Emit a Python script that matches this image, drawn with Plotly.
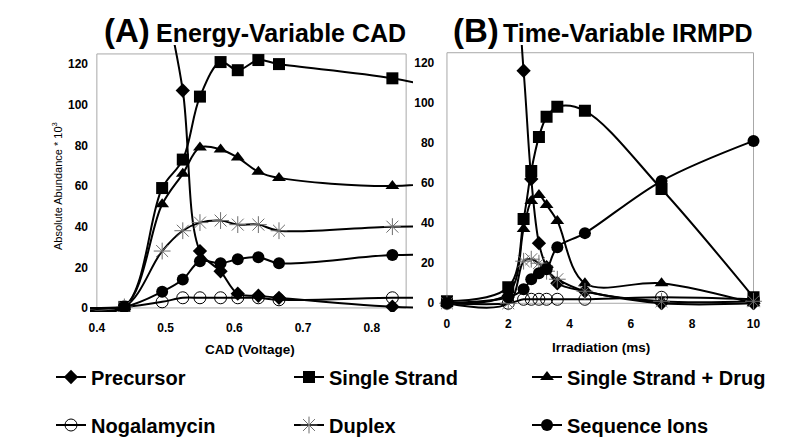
import plotly.graph_objects as go

# panel A: energy-variable CAD (first and last points sit outside the drawn frame)
cad_v = [0.36, 0.44, 0.495, 0.525, 0.55, 0.58, 0.605, 0.635, 0.665, 0.83, 0.95]
a_precursor = [350, 260, 160, 107, 28, 18, 7, 6, 5, 0.6, 0]
a_single = [0, 0.5, 59, 73, 104, 121, 117, 122, 120, 113, 104]
a_single_drug = [0, 0.5, 51, 66, 79, 78, 74, 67, 64, 60, 64]
a_noga = [0, 0.5, 3, 5, 5, 5, 5, 5, 4, 5, 5]
a_duplex = [0, 0.5, 28, 38, 42, 43, 41, 41, 38, 40, 40]
a_seq = [0, 0.5, 8, 14, 23, 22, 24, 25, 22, 26, 26]

# panel B: time-variable IRMPD
irr_ms = [0, 2, 2.5, 2.75, 3, 3.25, 3.6, 4.5, 7, 10]
b_precursor = [320, 200, 116, 62, 30, 18, 10, 6, 0, 0]
b_single = [1, 8, 42, 66, 83, 93, 98, 96, 57, 3]
b_single_drug = [0, 5, 37, 51, 54, 49, 41, 10, 10, 0]
b_noga = [0, 0, 2, 2, 2, 2, 2, 2, 3, 2]
b_duplex = [0, 0, 21, 22, 20, 16, 12, 6, 1, 1]
b_seq = [0, 3, 7, 12, 15, 17, 28, 35, 61, 81]

names = ['Precursor', 'Single Strand', 'Single Strand + Drug',
         'Nogalamycin', 'Duplex', 'Sequence Ions']
styles = [
    dict(symbol='diamond', size=11, color='black'),
    dict(symbol='square', size=12, color='black'),
    dict(symbol='triangle-up', size=12, color='black'),
    dict(symbol='circle-open', size=12, color='black', line=dict(width=1, color='black')),
    dict(symbol='asterisk-open', size=14, color='#6e6e6e', line=dict(width=1, color='#6e6e6e')),
    dict(symbol='circle', size=12, color='black'),
]
legends = ['legend', 'legend', 'legend', 'legend2', 'legend2', 'legend2']

SANS = 'Liberation Sans, Arial, sans-serif'
W, H, OFF = 800, 443, 8   # page body margin shifts the figure by 8px


def px(x):
    return (x - OFF) / W


def py(y):
    return 1 - (y - OFF) / H


fig = go.Figure()
for i, ys in enumerate([a_precursor, a_single, a_single_drug, a_noga, a_duplex, a_seq]):
    fig.add_trace(go.Scatter(x=cad_v, y=ys, name=names[i], mode='lines+markers',
                             line=dict(color='black', width=2, shape='spline'),
                             marker=styles[i], legend=legends[i],
                             xaxis='x', yaxis='y'))
for i, ys in enumerate([b_precursor, b_single, b_single_drug, b_noga, b_duplex, b_seq]):
    fig.add_trace(go.Scatter(x=irr_ms, y=ys, name=names[i], mode='lines+markers',
                             line=dict(color='black', width=2, shape='spline'),
                             marker=styles[i], showlegend=False,
                             xaxis='x2', yaxis='y2'))

tickfont = dict(family=SANS, size=12, color='black', weight='bold')
ax = dict(showgrid=False, zeroline=False, showline=False, ticks='', tickfont=tickfont)
legfont = dict(family=SANS, size=20, color='black', weight='bold')


def ann(text, x, y, size, xanchor='center', bold=True, angle=0):
    return dict(text=text, x=px(x), y=py(y), xref='paper', yref='paper',
                xanchor=xanchor, yanchor='middle', showarrow=False, textangle=angle,
                font=dict(family=SANS, size=size, color='black',
                          weight='bold' if bold else 'normal'))


fig.update_layout(
    width=W, height=H, autosize=False,
    margin=dict(l=0, r=0, t=0, b=0, autoexpand=False),
    paper_bgcolor='white', plot_bgcolor='rgba(0,0,0,0)',
    xaxis=dict(ax, domain=[px(90), px(413)], range=[0.39, 0.86],
               tickvals=[0.4, 0.5, 0.6, 0.7, 0.8], tickformat='.1f',
               ticklabelstandoff=7),
    yaxis=dict(ax, domain=[py(312), py(45)], range=[-2, 129.4],
               tickvals=[0, 20, 40, 60, 80, 100, 120], ticklabelstandoff=1),
    xaxis2=dict(ax, domain=[px(439.3), px(762.7)], range=[-0.25, 10.3],
                tickvals=[0, 2, 4, 6, 8, 10], anchor='y2', ticklabelstandoff=5),
    yaxis2=dict(ax, domain=[py(310.3), py(45.1)], range=[-3.5, 128.8],
                tickvals=[0, 20, 40, 60, 80, 100, 120], anchor='x2',
                ticklabelstandoff=4),
    legend=dict(orientation='h', x=px(51), y=py(377), xanchor='left', yanchor='middle',
                entrywidth=193, entrywidthmode='pixels', itemwidth=30,
                font=legfont, bgcolor='rgba(0,0,0,0)'),
    legend2=dict(orientation='h', x=px(51), y=py(425), xanchor='left', yanchor='middle',
                 entrywidth=193, entrywidthmode='pixels', itemwidth=30,
                 font=legfont, bgcolor='rgba(0,0,0,0)'),
    shapes=[
        dict(type='rect', xref='x', yref='y', x0=0.4, x1=0.85, y0=0, y1=125,
             line=dict(color='#a8a8a8', width=1), layer='below'),
        dict(type='rect', xref='x2', yref='y2', x0=0, x1=10, y0=0, y1=125,
             line=dict(color='#a8a8a8', width=1), layer='below'),
    ],
    annotations=[
        ann('(A)', 127, 30, 33),
        ann('Energy-Variable CAD', 154, 33, 25, xanchor='left'),
        ann('(B)', 476, 30, 33),
        ann('Time-Variable IRMPD', 501, 33, 25, xanchor='left'),
        ann('Absolute Abundance * 10<sup>3</sup>', 57, 186, 11, bold=False, angle=-90),
        ann('CAD (Voltage)', 250, 349, 13.5),
        ann('Irradiation (ms)', 601, 347, 13.5),
    ],
)

fig.write_html('out.html')
